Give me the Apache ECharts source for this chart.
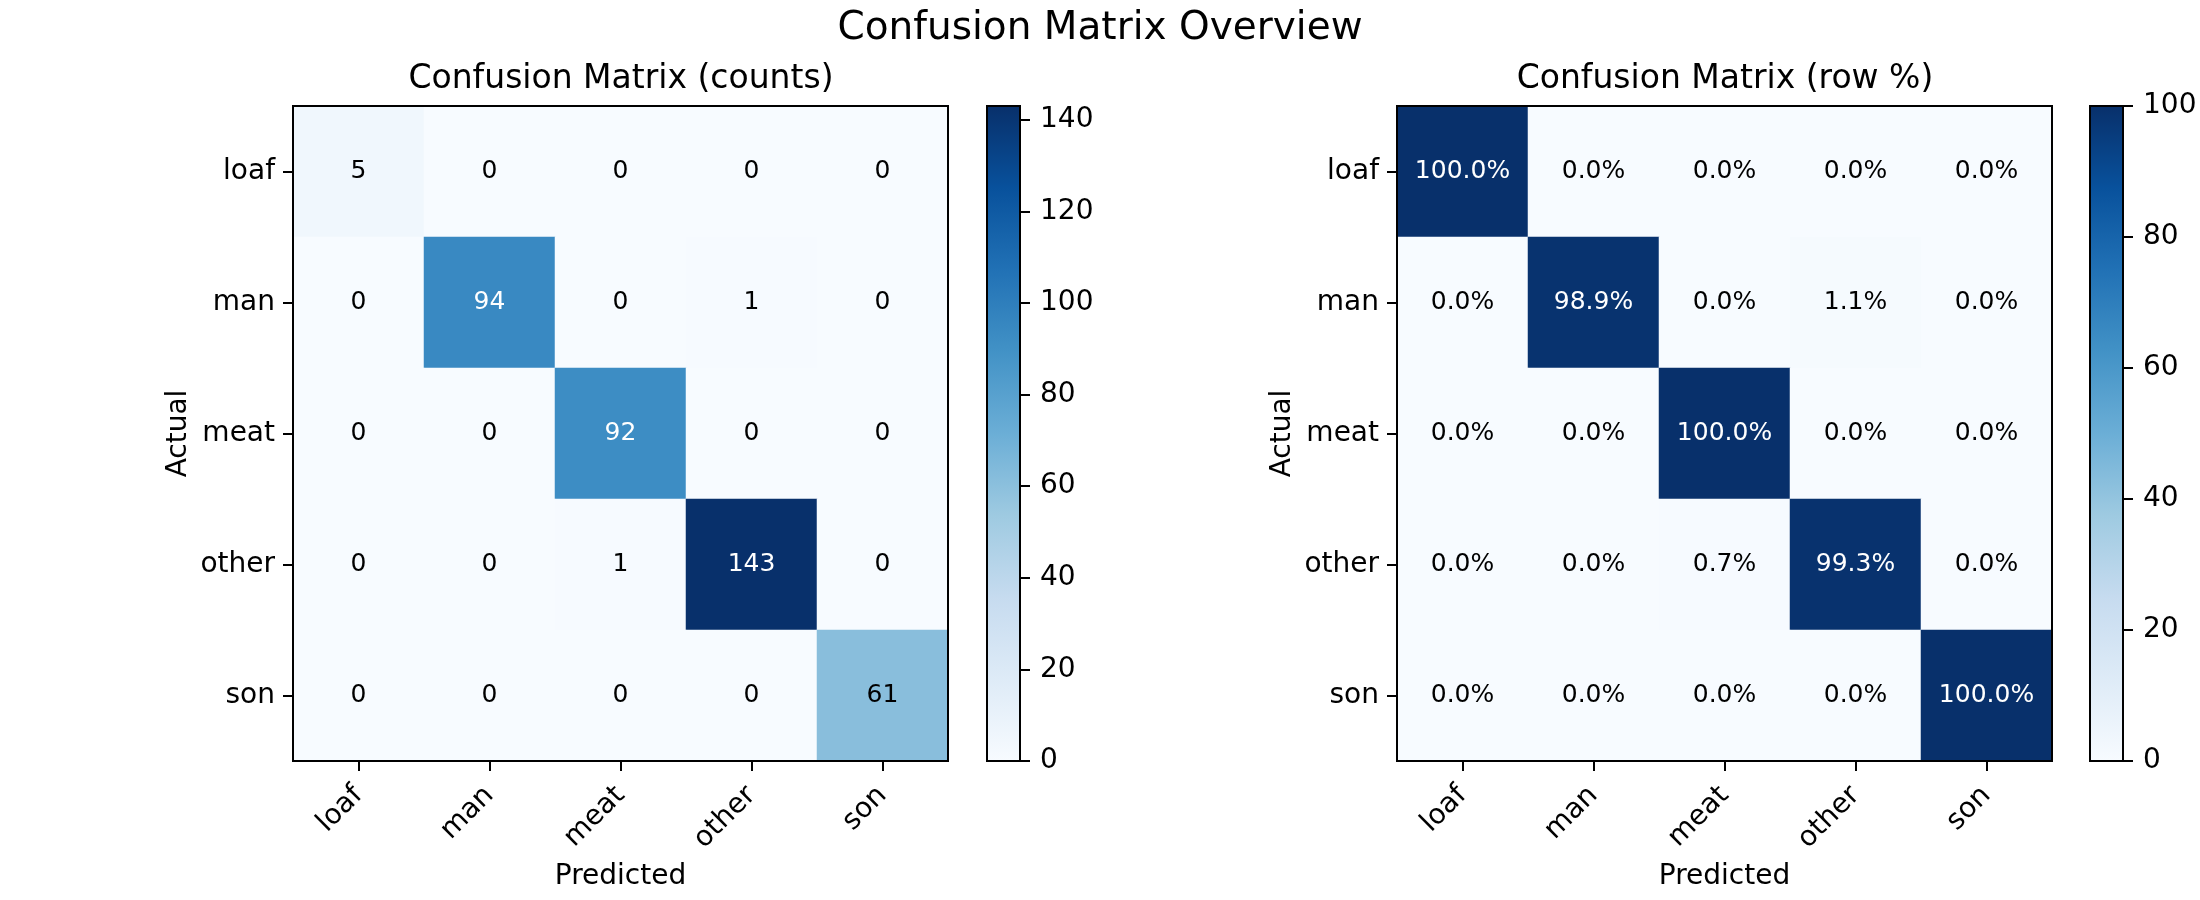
<!DOCTYPE html>
<html>
<head>
<meta charset="utf-8">
<script src="https://cdn.jsdelivr.net/npm/echarts@6/dist/echarts.min.js"></script>
<style>
html,body{margin:0;padding:0;background:#fff;}
#chart{width:2200px;height:900px;}
</style>
</head>
<body>
<div id="chart"></div>
<script>
// ---- data ----
const categories = ['loaf', 'man', 'meat', 'other', 'son'];
const countsLoaf  = [5, 0, 0, 0, 0];
const countsMan   = [0, 94, 0, 1, 0];
const countsMeat  = [0, 0, 92, 0, 0];
const countsOther = [0, 0, 1, 143, 0];
const countsSon   = [0, 0, 0, 0, 61];
const countRows = [countsLoaf, countsMan, countsMeat, countsOther, countsSon];
const countTicks = [0, 20, 40, 60, 80, 100, 120, 140];
const pctTicks = [0, 20, 40, 60, 80, 100];
const mainTitle = 'Confusion Matrix Overview';
const titleCounts = 'Confusion Matrix (counts)';
const titlePct = 'Confusion Matrix (row %)';
const xName = 'Predicted';
const yName = 'Actual';

// Matplotlib "Blues" colormap anchor colours
const BLUES = ['#f7fbff','#deebf7','#c6dbef','#9ecae1','#6baed6','#4292c6','#2171b5','#08519c','#08306b'];

// derived
const pctRows = countRows.map(r => { const s = r.reduce((a, b) => a + b, 0); return r.map(v => v / s * 100); });
const maxCount = Math.max(...countRows.flat());
const maxPct = 100;

const FONT = 'DejaVu Sans';

function cells(rows, maxV) {
  const out = [];
  rows.forEach((r, i) => r.forEach((v, j) => {
    out.push({ value: [j, i, v], label: { color: v > maxV / 2 ? '#ffffff' : '#000000' } });
  }));
  return out;
}

function gradient() {
  return new echarts.graphic.LinearGradient(0, 1, 0, 0,
    BLUES.map((c, i) => ({ offset: i / (BLUES.length - 1), color: c })));
}

const tickStyle = { show: true, length: 10, lineStyle: { color: '#000', width: 2 } };
const labelStyle = { color: '#000', fontSize: 28, fontFamily: FONT };

function heatX(gi) {
  return {
    type: 'category', gridIndex: gi, data: categories, position: 'bottom',
    axisLine: { show: false }, axisTick: Object.assign({ alignWithLabel: true, interval: 0 }, tickStyle),
    axisLabel: Object.assign({ rotate: 45, margin: 30, interval: 0 }, labelStyle),
    splitLine: { show: false }, splitArea: { show: false },
    name: xName, nameLocation: 'middle', nameGap: 102,
    nameTextStyle: { color: '#000', fontSize: 28, fontFamily: FONT }
  };
}
function heatY(gi) {
  return {
    type: 'category', gridIndex: gi, data: categories, inverse: true,
    axisLine: { show: false }, axisTick: Object.assign({ alignWithLabel: true, interval: 0 }, tickStyle),
    axisLabel: Object.assign({ margin: 18, interval: 0 }, labelStyle),
    splitLine: { show: false }, splitArea: { show: false },
    name: yName, nameLocation: 'middle', nameGap: 100,
    nameTextStyle: { color: '#000', fontSize: 28, fontFamily: FONT }
  };
}
function cbX(gi) {
  return { type: 'category', gridIndex: gi, data: ['cb'], show: false };
}
function cbY(gi, maxV, ticks) {
  return {
    type: 'value', gridIndex: gi, min: 0, max: maxV, position: 'right',
    axisLine: { show: false },
    axisTick: Object.assign({ customValues: ticks }, tickStyle),
    axisLabel: Object.assign({ margin: 20, customValues: ticks }, labelStyle),
    splitLine: { show: false }
  };
}

const chart = echarts.init(document.getElementById('chart'), null, { renderer: 'canvas' });
const gridBorder = { show: true, borderColor: '#000', borderWidth: 2, backgroundColor: 'transparent', z: 10 };

const option = {
  animation: false,
  backgroundColor: '#fff',
  title: [
    { text: mainTitle, left: 'center', top: 9, padding: 0,
      textStyle: { fontSize: 39, fontWeight: 'normal', color: '#000', fontFamily: FONT } },
    { text: titleCounts, left: 621, textAlign: 'center', top: 63, padding: 0,
      textStyle: { fontSize: 33, fontWeight: 'normal', color: '#000', fontFamily: FONT } },
    { text: titlePct, left: 1725, textAlign: 'center', top: 63, padding: 0,
      textStyle: { fontSize: 33, fontWeight: 'normal', color: '#000', fontFamily: FONT } }
  ],
  grid: [
    Object.assign({ left: 293, top: 106, width: 655, height: 655 }, gridBorder),
    Object.assign({ left: 987, top: 106, width: 33, height: 655 }, gridBorder),
    Object.assign({ left: 1397, top: 106, width: 655, height: 655 }, gridBorder),
    Object.assign({ left: 2090, top: 106, width: 33, height: 655 }, gridBorder)
  ],
  xAxis: [heatX(0), cbX(1), heatX(2), cbX(3)],
  yAxis: [heatY(0), cbY(1, maxCount, countTicks), heatY(2), cbY(3, maxPct, pctTicks)],
  visualMap: [
    { show: false, type: 'continuous', seriesIndex: 0, dimension: 2, min: 0, max: maxCount, inRange: { color: BLUES } },
    { show: false, type: 'continuous', seriesIndex: 2, dimension: 2, min: 0, max: maxPct, inRange: { color: BLUES } }
  ],
  series: [
    { type: 'heatmap', xAxisIndex: 0, yAxisIndex: 0, data: cells(countRows, maxCount),
      label: { show: true, fontSize: 25, fontFamily: FONT, formatter: p => String(p.value[2]) },
      emphasis: { disabled: true }, itemStyle: { borderWidth: 0 } },
    { type: 'bar', xAxisIndex: 1, yAxisIndex: 1, data: [maxCount], barWidth: '100%',
      itemStyle: { color: gradient() }, emphasis: { disabled: true }, silent: true },
    { type: 'heatmap', xAxisIndex: 2, yAxisIndex: 2, data: cells(pctRows, maxPct),
      label: { show: true, fontSize: 25, fontFamily: FONT, formatter: p => p.value[2].toFixed(1) + '%' },
      emphasis: { disabled: true }, itemStyle: { borderWidth: 0 } },
    { type: 'bar', xAxisIndex: 3, yAxisIndex: 3, data: [maxPct], barWidth: '100%',
      itemStyle: { color: gradient() }, emphasis: { disabled: true }, silent: true }
  ]
};
chart.setOption(option);
</script>
</body>
</html>
